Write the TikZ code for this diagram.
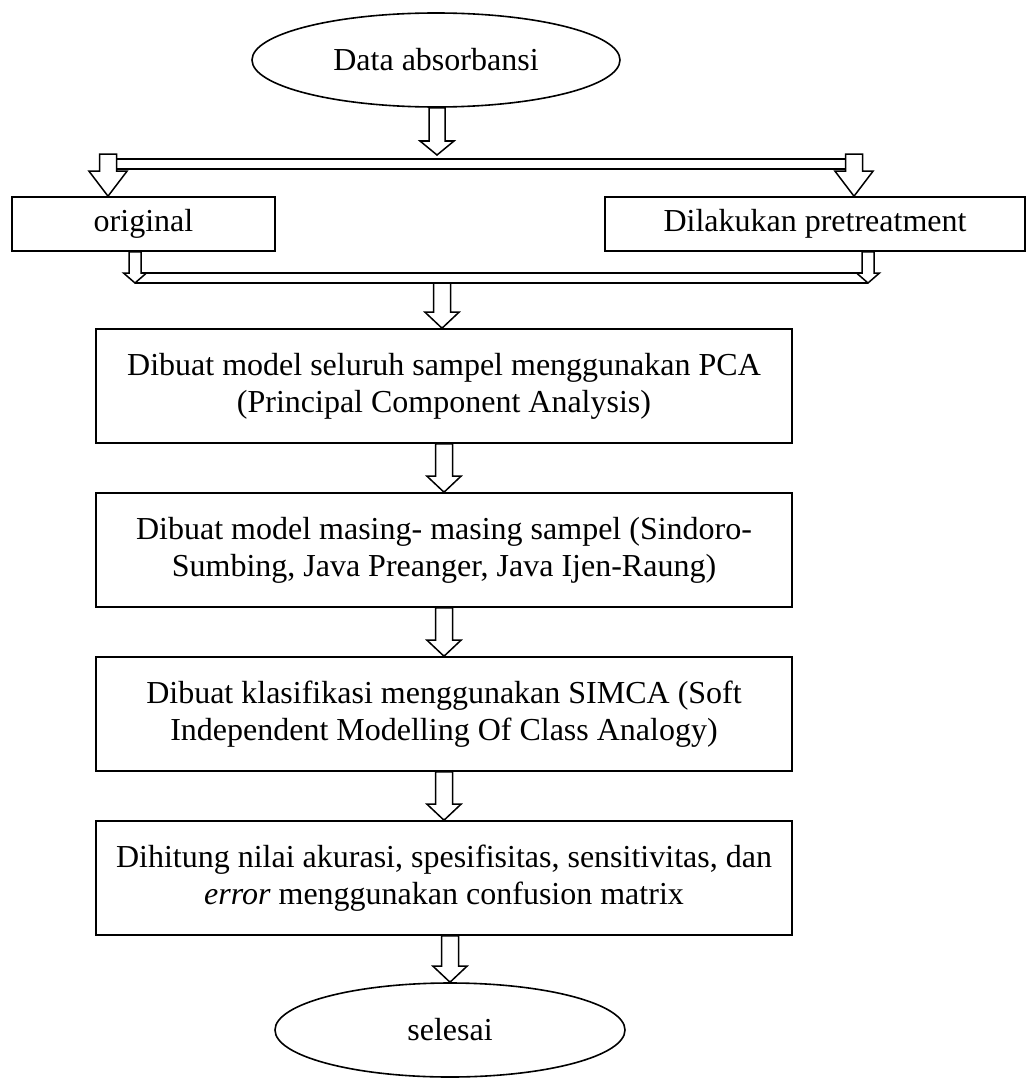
\documentclass[tikz,border=0pt]{standalone}
\usepackage{fontspec}
\setmainfont{Liberation Serif}
\usetikzlibrary{shapes.geometric, positioning, calc}

\tikzset{
  procbox/.style={draw, line width=0.8pt, align=center, inner sep=0pt,
    font=\fontsize{16}{18.5}\selectfont},
  termnode/.style={draw, ellipse, line width=0.8pt, inner sep=0pt,
    font=\fontsize{16}{18.5}\selectfont},
  blockarr/.style={draw, fill=white, line width=0.75pt, line join=miter},
  splitbar/.style={draw, line width=0.75pt, double, double distance=4.25pt},
}

% block arrow: #1 start, #2 tip, #3 half shaft, #4 half head, #5 head length
\newcommand{\blkarrow}[5]{%
  \coordinate (ba-top) at (#1 -| #2);
  \draw[blockarr] ($(ba-top)+(-#3,0)$) -- ($(#2)+(-#3,-#5)$) -- ($(#2)+(-#4,-#5)$) -- (#2)
    -- ($(#2)+(#4,-#5)$) -- ($(#2)+(#3,-#5)$) -- ($(ba-top)+(#3,0)$) -- cycle;}

\begin{document}
\begin{tikzpicture}[x=0.5pt, y=-0.5pt]
\useasboundingbox (0,0) rectangle (1028,1081);

\node[termnode, minimum width=184pt, minimum height=47pt] (start) at (436,60) {Data absorbansi};
\node[procbox, minimum width=131.5pt, minimum height=27pt] (orig) at (143.5,224) {original};
\node[procbox, minimum width=210pt, minimum height=27pt] (pre) at (815,224) {Dilakukan pretreatment};
\node[procbox, minimum width=348pt, minimum height=57pt] (pca) at (444,386)
  {Dibuat model seluruh sampel menggunakan PCA\\(Principal Component Analysis)};
\node[procbox, minimum width=348pt, minimum height=57pt] (model) at (444,550)
  {Dibuat model masing- masing sampel (Sindoro-\\Sumbing, Java Preanger, Java Ijen-Raung)};
\node[procbox, minimum width=348pt, minimum height=57pt] (simca) at (444,714)
  {Dibuat klasifikasi menggunakan SIMCA (Soft\\Independent Modelling Of Class Analogy)};
\node[procbox, minimum width=348pt, minimum height=57pt] (akurasi) at (444,878)
  {Dihitung nilai akurasi, spesifisitas, sensitivitas, dan\\\textit{error} menggunakan confusion matrix};
\node[termnode, minimum width=175pt, minimum height=47pt] (finish) at (450,1030) {selesai};

% split and merge bars
\coordinate (splitL) at (108,164);
\coordinate (splitR) at (854,164);
\coordinate (mergeL) at (135,278);
\coordinate (mergeR) at (868,278);
\draw[splitbar] (splitL) -- (splitR);
\draw[splitbar] (mergeL) -- (mergeR);

\coordinate (split) at (437,155);
\coordinate (topL) at (108,154);
\coordinate (topR) at (854,154);
\coordinate (tipL) at (orig.north -| topL);
\coordinate (tipR) at (pre.north -| topR);
\coordinate (botL) at (135,283);
\coordinate (botR) at (868,283);
\coordinate (merge) at (442,283);
\coordinate (tipM) at (pca.north -| merge);

\blkarrow{start.south}{split}{8}{17}{14}
\blkarrow{topL}{tipL}{8.5}{19}{25}
\blkarrow{topR}{tipR}{8.5}{19}{25}
\blkarrow{orig.south}{botL}{6}{11.5}{10}
\blkarrow{pre.south}{botR}{6}{11.5}{10}
\blkarrow{merge}{tipM}{8.5}{17}{16}
\blkarrow{pca.south}{model.north}{8.5}{17}{16}
\blkarrow{model.south}{simca.north}{8.5}{17}{16}
\blkarrow{simca.south}{akurasi.north}{8.5}{17}{16}
\coordinate (tipE) at (finish.north);
\blkarrow{akurasi.south}{tipE}{8.5}{17}{16}
\end{tikzpicture}
\end{document}
